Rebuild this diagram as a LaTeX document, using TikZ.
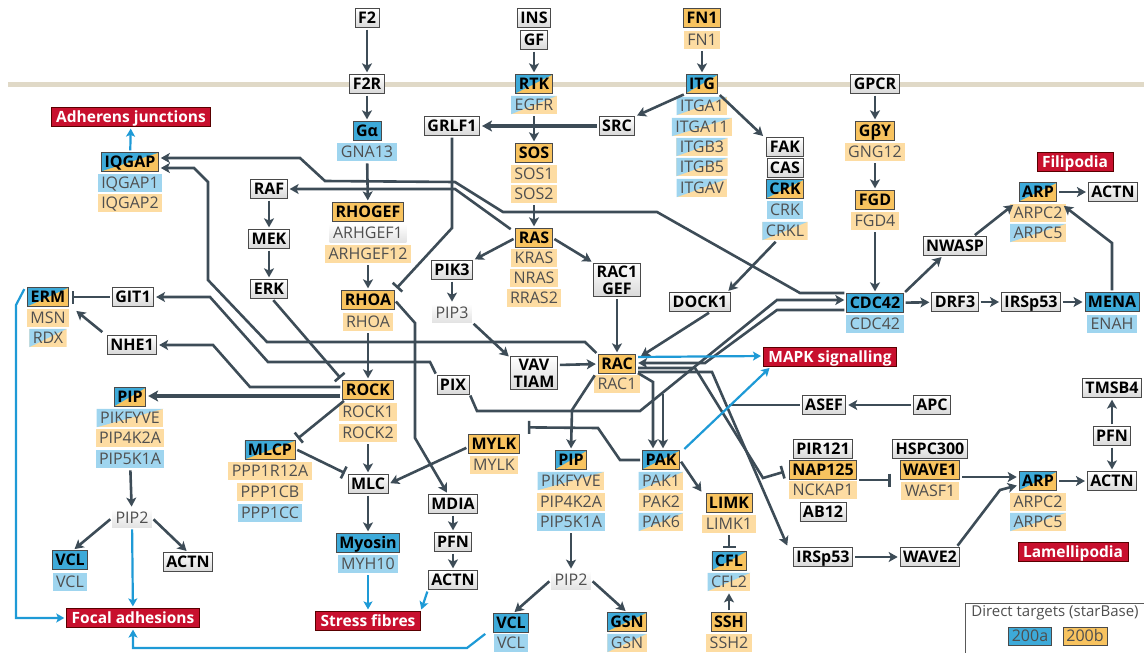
\documentclass[tikz,border=0pt]{standalone}
\usepackage{fontspec}
\setmainfont{Open Sans}
\usetikzlibrary{arrows.meta}
\definecolor{ln}{HTML}{3D4C57}
\definecolor{bdr}{HTML}{4A4A4A}
\definecolor{orB}{HTML}{F8C35F}
\definecolor{orS}{HTML}{FDDCA2}
\definecolor{blB}{HTML}{3DAAD9}
\definecolor{blS}{HTML}{9FD5EF}
\definecolor{redc}{HTML}{C8102E}
\definecolor{blA}{HTML}{1E9AD6}
\definecolor{mem}{HTML}{E0D9C7}
\definecolor{subt}{HTML}{4F4F4F}
\newcommand\diagpic[2]{\fill[#1] (path picture bounding box.south west) rectangle (path picture bounding box.north east);
 \fill[#2] (path picture bounding box.south west) -- (path picture bounding box.north west) -- (path picture bounding box.north east) -- cycle;}
\tikzset{
 basebox/.style={inner xsep=3pt, inner ysep=2.8pt, text height=11.6pt, text depth=1.2pt, font=\fontsize{16}{17}\selectfont},
 bx/.style={basebox, draw=bdr, line width=0.9pt, font=\fontsize{16}{17}\selectfont\bfseries, text=black},
 bgray/.style={bx, top color=white, bottom color=gray!30},
 bor/.style={bx, fill=orB},
 bblu/.style={bx, fill=blB},
 bdia/.style={bx, path picture={\diagpic{orB}{blB}}},
 btwo/.style={draw=bdr, line width=0.9pt, top color=white, bottom color=gray!30, font=\fontsize{16}{17}\selectfont\bfseries, align=center, inner xsep=3pt, inner ysep=2.5pt},
 sx/.style={basebox, text=subt, inner xsep=3.5pt},
 sor/.style={sx, fill=orS},
 sblu/.style={sx, fill=blS},
 sgr/.style={sx, top color=white, bottom color=gray!22},
 sdia/.style={sx, path picture={\diagpic{orS}{blS}}},
 rbox/.style={basebox, fill=redc, draw=red!35!black, line width=0.8pt, text=white, font=\fontsize{15.5}{17}\selectfont\bfseries, inner xsep=5pt},
 ar/.style={draw=ln, line width=2.6pt, line join=miter, -{Stealth[length=9pt,width=10pt,inset=2.2pt]}, shorten >=2pt, shorten <=2pt},
 tar/.style={draw=ln, line width=3.8pt, -{Stealth[length=10pt,width=11pt,inset=2.4pt]}, shorten >=2pt, shorten <=2pt},
 plain/.style={draw=ln, line width=2.6pt, shorten <=2pt},
 inh/.style={draw=ln, line width=2.6pt, -{Bar[width=13pt]}, shorten >=3pt, shorten <=2pt},
 blu/.style={draw=blA, line width=2.2pt, -{Stealth[length=8pt,width=9pt,inset=1.8pt]}, shorten >=2pt, shorten <=2pt},
}
\begin{document}
\begin{tikzpicture}[x=1pt,y=-1pt]
\useasboundingbox (0,0) rectangle (1144,653);
\draw[mem, line width=5pt] (8,84) -- (1144,84);
% ---------- top
\node[bgray] (F2) at (367,18) {F2};
\node[bgray] (F2R) at (367,84) {F2R};
\node[bblu] (Ga) at (367,131) {Gα};
\node[sblu] (GNA13) at (367,152) {GNA13};
\node[bgray] (INS) at (534,18) {INS};
\node[bgray] (GF) at (534,40) {GF};
\node[bdia] (RTK) at (534,84) {RTK};
\node[sdia] (EGFR) at (534,105) {EGFR};
\node[bor] (FN1b) at (702,18) {FN1};
\node[sor] (FN1s) at (702,40) {FN1};
\node[bdia] (ITG) at (702,84) {ITG};
\node[sdia] (ITGA1) at (702,106) {ITGA1};
\node[sdia] (ITGA11) at (702,127) {ITGA11};
\node[sdia] (ITGB3) at (702,147) {ITGB3};
\node[sdia] (ITGB5) at (702,167) {ITGB5};
\node[sdia] (ITGAV) at (702,188) {ITGAV};
\node[bgray] (GPCR) at (875,84) {GPCR};
\node[bor] (Gby) at (875,131) {GβY};
\node[sor] (GNG12) at (875,152) {GNG12};
\node[bor] (FGD) at (875,200) {FGD};
\node[sor] (FGD4) at (875,221) {FGD4};
\node[bgray] (GRLF1) at (452,126) {GRLF1};
\node[bgray] (SRC) at (617,126) {SRC};
\node[bor] (SOS) at (534,153) {SOS};
\node[sor] (SOS1) at (534,174) {SOS1};
\node[sor] (SOS2) at (534,194) {SOS2};
\node[bgray] (FAK) at (785,147) {FAK};
\node[bgray] (CAS) at (785,168) {CAS};
\node[bdia] (CRK) at (785,189) {CRK};
\node[sblu] (CRKs) at (785,210) {CRK};
\node[sdia] (CRKL) at (785,231) {CRKL};
\node[rbox] (AJ) at (131,117) {Adherens junctions};
\node[bdia] (IQGAP) at (130,162) {IQGAP};
\node[sblu] (IQGAP1) at (130,183) {IQGAP1};
\node[sor] (IQGAP2) at (130,203) {IQGAP2};
\node[bgray] (RAF) at (269,189) {RAF};
\node[bgray] (MEK) at (269,239) {MEK};
\node[bgray] (ERK) at (269,289) {ERK};
\node[bor] (RHOGEF) at (368,212) {RHOGEF};
\node[sgr] (ARHGEF1) at (368,233) {ARHGEF1};
\node[sor] (ARHGEF12) at (368,254) {ARHGEF12};
\node[bor] (RHOA) at (368,300) {RHOA};
\node[sor] (RHOAs) at (368,322) {RHOA};
\node[bor] (RAS) at (534,238) {RAS};
\node[sor] (KRAS) at (534,258) {KRAS};
\node[sor] (NRAS) at (534,278) {NRAS};
\node[sor] (RRAS2) at (534,298) {RRAS2};
\node[bgray] (PIK3) at (452,270) {PIK3};
\node[sgr] (PIP3) at (452,313) {PIP3};
\node[btwo] (RAC1GEF) at (617,280) {RAC1\\GEF};
\node[bgray] (DOCK1) at (700,302) {DOCK1};
\node[bblu] (CDC42) at (875,303) {CDC42};
\node[sblu] (CDC42s) at (875,324) {CDC42};
\node[bgray] (NWASP) at (955,246) {NWASP};
\node[bdia] (ARPt) at (1038,192) {ARP};
\node[sor] (ARPC2t) at (1038,213) {ARPC2};
\node[sdia] (ARPC5t) at (1038,233) {ARPC5};
\node[bgray] (ACTNt) at (1113,192) {ACTN};
\node[rbox] (Filo) at (1075,162) {Filipodia};
\node[bgray] (DRF3) at (955,302) {DRF3};
\node[bgray] (IRSt) at (1031,302) {IRSp53};
\node[bblu] (MENA) at (1112,302) {MENA};
\node[sblu] (ENAH) at (1112,324) {ENAH};
% ---------- middle
\node[bdia] (ERM) at (48,297) {ERM};
\node[sor] (MSN) at (48,318) {MSN};
\node[sdia] (RDX) at (48,338) {RDX};
\node[bgray] (GIT1) at (133,297) {GIT1};
\node[bgray] (NHE1) at (132,345) {NHE1};
\node[rbox] (MAPK) at (830,357) {MAPK signalling};
\node[btwo] (VAV) at (534,373) {VAV\\TIAM};
\node[bor] (RAC) at (617,364) {RAC};
\node[sor] (RAC1) at (617,384) {RAC1};
\node[bgray] (PIX) at (453,385) {PIX};
\node[bor] (ROCK) at (368,390) {ROCK};
\node[sor] (ROCK1) at (368,412) {ROCK1};
\node[sor] (ROCK2) at (368,433) {ROCK2};
\node[bdia] (PIPl) at (130,397) {PIP};
\node[sdia] (PIKl) at (130,418) {PIKFYVE};
\node[sor] (P4l) at (130,438) {PIP4K2A};
\node[sblu] (P5l) at (130,459) {PIP5K1A};
\node[bgray] (ASEF) at (824,405) {ASEF};
\node[bgray] (APC) at (932,405) {APC};
\node[bgray] (TMSB4) at (1112,388) {TMSB4};
\node[bgray] (PFNr) at (1112,436) {PFN};
\node[bgray] (ACTNr) at (1112,481) {ACTN};
% ---------- lower
\node[bor] (MYLK) at (494,444) {MYLK};
\node[sor] (MYLKs) at (494,465) {MYLK};
\node[bdia] (PIPm) at (571,460) {PIP};
\node[sdia] (PIKm) at (571,481) {PIKFYVE};
\node[sor] (P4m) at (571,502) {PIP4K2A};
\node[sblu] (P5m) at (571,522) {PIP5K1A};
\node[bdia] (PAK) at (661,460) {PAK};
\node[sdia] (PAK1) at (661,481) {PAK1};
\node[sor] (PAK2) at (661,502) {PAK2};
\node[sdia] (PAK6) at (661,522) {PAK6};
\node[bdia] (MLCP) at (270,450) {MLCP};
\node[sor] (PPP1R12A) at (270,471) {PPP1R12A};
\node[sor] (PPP1CB) at (270,492) {PPP1CB};
\node[sblu] (PPP1CC) at (270,513) {PPP1CC};
\node[bgray] (MLC) at (368,484) {MLC};
\node[bgray] (MDIA) at (453,504) {MDIA};
\node[bgray] (PFNm) at (453,542) {PFN};
\node[bgray] (ACTNm) at (453,580) {ACTN};
\node[bblu] (Myosin) at (368,543) {Myosin};
\node[sblu] (MYH10) at (368,564) {MYH10};
\node[rbox] (SF) at (368,621) {Stress fibres};
\node[sgr] (PIP2l) at (132,518) {PIP2};
\node[bblu] (VCLl) at (70,560) {VCL};
\node[sblu] (VCLls) at (70,582) {VCL};
\node[bgray] (ACTNl) at (188,562) {ACTN};
\node[rbox] (FA) at (133,618) {Focal adhesions};
\node[bor] (LIMK) at (729,503) {LIMK};
\node[sor] (LIMK1) at (729,524) {LIMK1};
\node[bdia] (CFL) at (729,561) {CFL};
\node[sdia] (CFL2) at (729,582) {CFL2};
\node[bor] (SSH) at (729,622) {SSH};
\node[sor] (SSH2) at (729,643) {SSH2};
\node[sgr] (PIP2m) at (571,580) {PIP2};
\node[bblu] (VCLm) at (511,623) {VCL};
\node[sblu] (VCLms) at (511,643) {VCL};
\node[bdia] (GSN) at (627,622) {GSN};
\node[sdia] (GSNs) at (627,643) {GSN};
\node[bgray] (PIR121) at (823,449) {PIR121};
\node[bor] (NAP125) at (823,470) {NAP125};
\node[sor] (NCKAP1) at (823,490) {NCKAP1};
\node[bgray] (AB12) at (823,512) {AB12};
\node[bgray] (HSPC300) at (930,449) {HSPC300};
\node[bor] (WAVE1) at (930,470) {WAVE1};
\node[sor] (WASF1) at (930,491) {WASF1};
\node[bdia] (ARPb) at (1038,481) {ARP};
\node[sor] (ARPC2b) at (1038,502) {ARPC2};
\node[sdia] (ARPC5b) at (1038,522) {ARPC5};
\node[rbox] (Lam) at (1073,552) {Lamellipodia};
\node[bgray] (IRSb) at (823,557) {IRSp53};
\node[bgray] (WAVE2) at (930,557) {WAVE2};
% legend
\node[draw=gray!70!black, line width=0.8pt, minimum width=181pt, minimum height=50pt, inner sep=0pt] (LEG) at (1056,628) {};
\node[font=\fontsize{15}{17}\selectfont, text=subt] (LEGT) at (1055,613) {Direct targets (starBase)};
\node[sx, fill=blB, draw=bdr, line width=0.6pt, text=subt] (L200a) at (1030,636) {200a};
\node[sx, fill=orB, draw=bdr, line width=0.6pt, text=subt] (L200b) at (1085,636) {200b};
% ---------- connectors: straight
\draw[ar] (F2) -- (F2R);
\draw[ar] (F2R) -- (Ga);
\draw[ar] (GNA13) -- (RHOGEF);
\draw[ar] (ARHGEF12) -- (RHOA);
\draw[ar] (RHOAs) -- (ROCK);
\draw[ar] (ROCK2) -- (MLC);
\draw[ar] (MLC) -- (Myosin);
\draw[ar] (GF) -- (RTK);
\draw[ar] (EGFR) -- (SOS);
\draw[ar] (SOS2) -- (RAS);
\draw[tar] (SRC) -- (GRLF1);
\draw[ar] (FN1s) -- (ITG);
\draw[ar] (ITG.south west) -- (SRC.north east);
\draw[ar] (ITG.south east) -- ([xshift=-2pt]FAK.north west);
\draw[ar] (GPCR) -- (Gby);
\draw[ar] (GNG12) -- (FGD);
\draw[ar] (FGD4) -- (CDC42);
\draw[ar] (CDC42.north east) -- ([xshift=-12pt]NWASP.south);
\draw[ar] ([xshift=-14pt]NWASP.north east) -- ([xshift=-4pt,yshift=-2pt]ARPt.south west);
\draw[ar] (ARPt) -- (ACTNt);
\draw[ar] (MENA.north) -- (1112,243) -- ([xshift=5pt,yshift=-3pt]ARPt.south east);
\draw[ar] (CDC42) -- (DRF3);
\draw[ar] (DRF3) -- (IRSt);
\draw[ar] (IRSt) -- (MENA);
\draw[ar] ([xshift=-8pt]CRKL.south) -- ([xshift=27pt]DOCK1.north);
\draw[ar] ([xshift=-20pt]DOCK1.south east) -- ([xshift=3pt,yshift=-3pt]RAC.north east);
\draw[ar] (RAS.east) -- (RAC1GEF.north west);
\draw[ar] (RAS.west) -- (PIK3.north east);
\draw[ar] (PIK3) -- (PIP3);
\draw[ar] (PIP3.south east) -- ([yshift=-2pt]VAV.north west);
\draw[ar] ([yshift=8pt]VAV.east) -- (RAC.west);
\draw[ar] (RAC1GEF) -- (RAC);
\draw[ar] (RAF) -- (MEK);
\draw[ar] (MEK) -- (ERK);
\draw[inh] (GRLF1.south) -- (452,228) -- (RHOA.north east);
\draw[ar] ([xshift=-3pt,yshift=-2pt]RAS.north west) -- (455,189) -- (RAF.east);
% CDC42 -> IQGAP (upper)
\draw[ar] ([yshift=10pt]CDC42.west) -- (800,293) -- (657,212) -- (503,212) -- (455,182) -- (325,181) -- (300,158) -- ([yshift=4pt]IQGAP.east);
% RAC -> IQGAP (lower)
\draw[ar] (RAC.north west) -- (585,342) -- (267,342) -- (208,280) -- (208,182) -- (194,168) -- ([yshift=-6pt]IQGAP.east);
% PIX -> GIT1
\draw[ar] (PIX.north west) -- (430,362) -- (268,362) -- (210,297) -- (GIT1.east);
\draw[inh] (GIT1) -- (ERM);
\draw[ar] ([xshift=-3pt,yshift=2pt]NHE1.north west) -- ([shift={(6pt,-3pt)}]ERM.south east);
\draw[ar] ([yshift=3pt]ROCK.west) -- (250,387) -- (213,345) -- (NHE1.east);
\draw[tar] ([yshift=-6pt]ROCK.west) -- ([yshift=1pt]PIPl.east);
\draw[inh] ([xshift=3pt]ERK.south) -- (ROCK.north west);
\draw[inh] ([xshift=3pt]ROCK.south west) -- (MLCP.north east);
\draw[inh] ([yshift=1pt]MLCP.east) -- (MLC.north west);
\draw[ar] ([yshift=-3pt]MYLK.west) -- (MLC.east);
\draw[ar] (RHOA.east) -- (415,323) -- (415,438) -- ([xshift=-5pt]MDIA.north);
\draw[ar] (MDIA) -- (PFNm);
\draw[ar] (PFNm) -- (ACTNm);
\draw[inh] (PAK.west) -- (620,460) -- (598,428) -- ([shift={(5pt,7pt)}]MYLK.north east);
\draw[ar] ([xshift=-2pt]RAC.south west) -- (572,410) -- (PIPm.north);
% tangle around RAC / CDC42
\coordinate (pixj) at (663,392);
\draw[ar] ([yshift=1pt]PIX.south east) -- (477,411) -- (640,411) -- (777,300) -- ([yshift=3pt]CDC42.west);
\draw[ar] ([yshift=-7pt]CDC42.west) -- (777,310) -- (705,363) -- ([yshift=1pt]RAC.east);
\draw[ar] (pixj) -- ([xshift=2pt]PAK.north);
\draw[ar] ([yshift=-8pt]RAC.east) -- (653,382) -- ([xshift=-8pt]PAK.north);
\draw[inh] ([yshift=-4pt]RAC.east) -- (695,368) -- (763,478) -- ([xshift=-2pt,yshift=-1pt]NAP125.west);
\draw[ar] ([yshift=-8pt]RAC.east) -- (712,372) -- ([xshift=-5pt]IRSb.north west);
\draw[plain] (ASEF.west) -- (729,405);
\draw[ar] (APC) -- (ASEF);
\draw[ar] (PAK.east) -- ([xshift=-3pt]LIMK.north west);
\draw[inh] (LIMK1) -- (CFL);
\draw[ar] (SSH) -- (CFL2);
\draw[ar] (P5m) -- (PIP2m);
\draw[ar] (PIP2m.west) -- ([xshift=2pt]VCLm.north);
\draw[ar] (PIP2m.east) -- (GSN.north);
\draw[ar] (P5l) -- (PIP2l);
\draw[ar] (PIP2l.west) -- ([xshift=3pt]VCLl.north);
\draw[ar] (PIP2l.east) -- (ACTNl.north);
\draw[ar] (PFNr) -- (TMSB4);
\draw[ar] (PFNr) -- (ACTNr);
\draw[ar] (ARPb) -- (ACTNr);
\draw[ar] ([yshift=-7pt]WAVE1.east) -- ([yshift=4pt]ARPb.west);
\draw[ar] ([xshift=-4pt]WAVE2.north east) -- (1000,490) -- ([yshift=-4pt]ARPb.west);
\draw[ar] (IRSb) -- (WAVE2);
\draw[inh] ([yshift=-10pt]NAP125.east) -- ([yshift=-10pt,xshift=-6pt]WAVE1.west);
% ---------- blue arrows
\draw[blu] (IQGAP) -- (AJ);
\draw[blu] (PIP2l) -- (FA);
\draw[blu] (MYH10) -- (SF);
\draw[blu] (ACTNm.south west) -- (SF.north east);
\draw[blu] ([yshift=7pt]RAC.east) -- ([yshift=1pt]MAPK.west);
\draw[blu] ([xshift=3pt]PAK.north east) -- ([xshift=8pt]MAPK.south west);
\draw[blu] ([xshift=-2pt]ERM.north west) -- (16,305) -- (16,618) -- (FA.west);
\draw[blu] ([xshift=-6pt]VCLm.south west) -- (467,648) -- (133,648) -- (FA.south);
\end{tikzpicture}
\end{document}
